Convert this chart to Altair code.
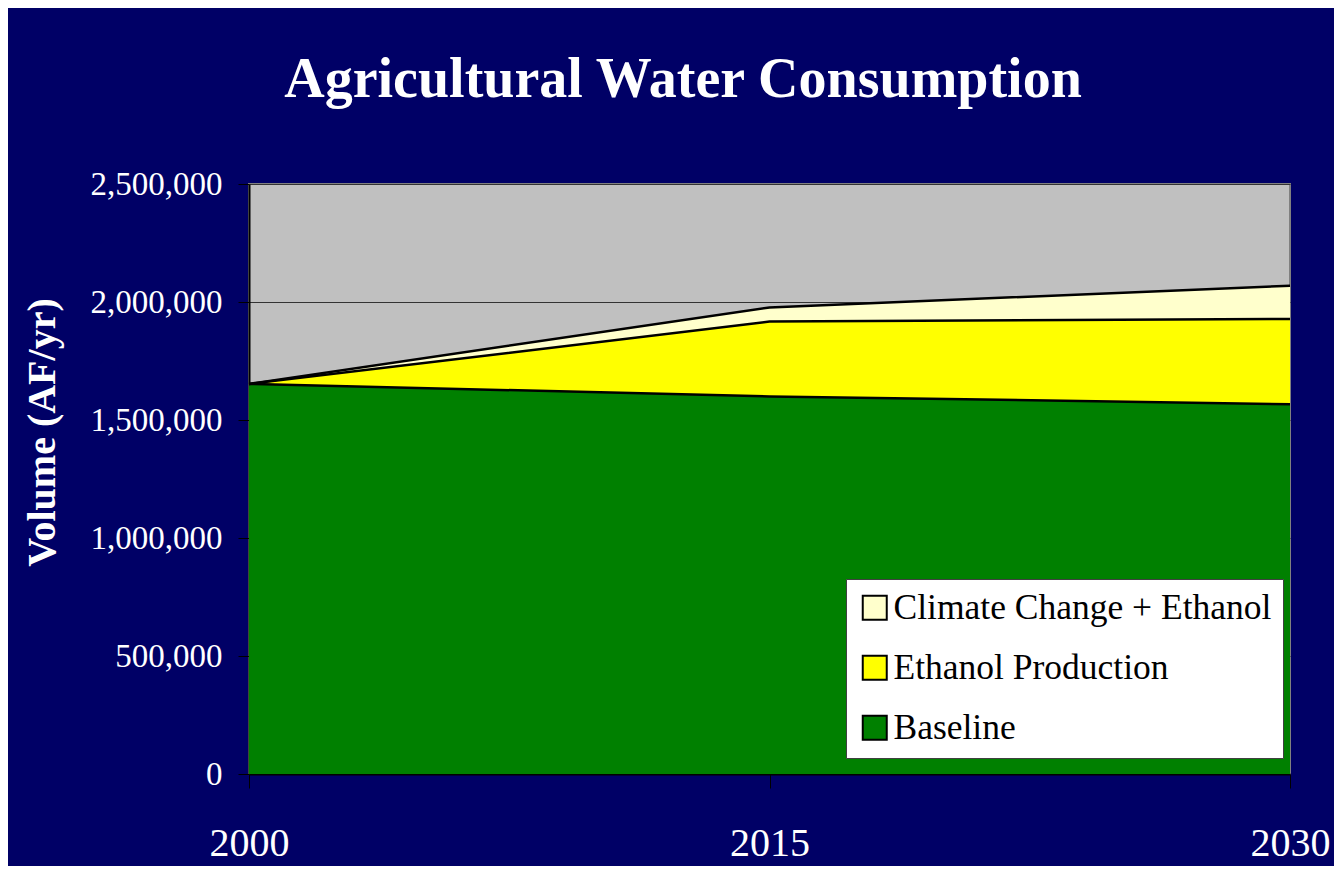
import altair as alt
import pandas as pd

years = [2000, 2015, 2030]
baseline = [1653000, 1600000, 1567000]
ethanol_total = [1653000, 1917000, 1928000]
climate_total = [1653000, 1977000, 2069000]
series = ["Climate Change + Ethanol", "Ethanol Production", "Baseline"]
colors = ["#FFFFCC", "#FFFF00", "#008000"]
y_ticks = [0, 500000, 1000000, 1500000, 2000000, 2500000]
title_text = "Agricultural Water Consumption"
y_title = "Volume (AF/yr)"

rows = []
for i, yr in enumerate(years):
    rows.append({"year": yr, "series": "Baseline", "top": baseline[i], "bottom": 0})
    rows.append({"year": yr, "series": "Ethanol Production", "top": ethanol_total[i], "bottom": baseline[i]})
    rows.append({"year": yr, "series": "Climate Change + Ethanol", "top": climate_total[i], "bottom": ethanol_total[i]})
df = pd.DataFrame(rows)

FONT = "Liberation Serif"

x_enc = alt.X(
    "year:Q",
    scale=alt.Scale(domain=[2000, 2030], nice=False, zero=False),
    axis=alt.Axis(values=years, format="d", title=None, labelFont=FONT, labelFontSize=40,
                  labelColor="white", labelPadding=35, tickSize=14, tickColor="black",
                  domainColor="black", domainWidth=2, grid=False, labelFlush=False),
)
y_enc = alt.Y(
    "top:Q",
    stack=None,
    scale=alt.Scale(domain=[0, 2500000], nice=False),
    axis=alt.Axis(values=y_ticks, format=",d", title=y_title, titleFont=FONT, titleFontSize=40,
                  titleFontWeight="bold", titleColor="white", titleAngle=270, titleX=-207,
                  titleY=248, titleAlign="center", titleBaseline="middle",
                  labelFont=FONT, labelFontSize=33, labelColor="white", labelPadding=16,
                  tickSize=11, tickColor="black", domainColor="black", domainWidth=2,
                  grid=True, gridColor="#333333", gridWidth=1),
)

areas = alt.Chart(df).mark_area(opacity=1).encode(
    x=x_enc,
    y=y_enc,
    y2="bottom:Q",
    color=alt.Color(
        "series:N",
        scale=alt.Scale(domain=series, range=colors),
        legend=alt.Legend(orient="none", legendX=597, legendY=395, title=None,
                          fillColor="white", strokeColor="#404040", padding=11,
                          labelFont=FONT, labelFontSize=35.5, labelColor="black", labelLimit=600,
                          symbolType="square", symbolSize=576, symbolStrokeColor="black",
                          symbolStrokeWidth=2, symbolOpacity=1, rowPadding=23, labelOffset=1),
    ),
)

lines = alt.Chart(df).mark_line(color="black", strokeWidth=2.5).encode(
    x="year:Q", y="top:Q", detail="series:N"
)

title = alt.Chart(pd.DataFrame({"t": [title_text]})).mark_text(
    font=FONT, fontSize=56, fontWeight="bold", color="white", align="center", baseline="alphabetic"
).encode(text="t:N", x=alt.value(434), y=alt.value(-87))

chart = alt.layer(areas, lines, title).properties(
    width=1041, height=590,
    padding={"left": 241, "top": 176, "right": 44, "bottom": 92},
    autosize=alt.AutoSizeParams(type="none"),
    background="#000066",
).configure_view(fill="#C0C0C0", stroke="#808080", strokeWidth=2)

chart.save("out.html", embed_options={"renderer": "svg", "actions": False})
